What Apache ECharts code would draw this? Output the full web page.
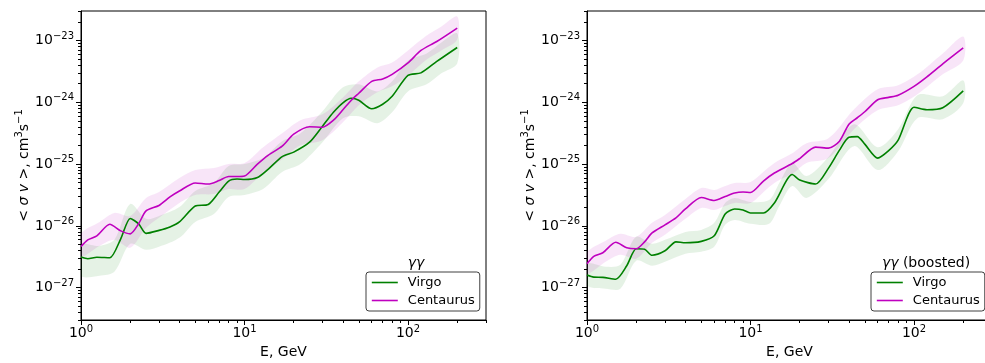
<!DOCTYPE html>
<html>
<head>
<meta charset="utf-8">
<script src="https://cdn.jsdelivr.net/npm/echarts@6/dist/echarts.min.js"></script>
<style>
  html, body { margin: 0; padding: 0; background: #fff; }
  #chart { width: 985px; height: 363px; }
</style>
</head>
<body>
<div id="chart"></div>
<script>
// ---- left panel: gamma gamma ----
const energyA = [1, 1.1, 1.25, 1.5, 1.75, 2, 2.25, 2.5, 3, 3.5, 4, 5, 6, 7, 8, 9, 10, 12, 14, 17, 20, 25, 30, 35, 40, 45, 50, 60, 70, 80, 100, 120, 150, 200];
const virgoA = [3.13e-27, 2.94e-27, 3.10e-27, 3.05e-27, 6.17e-27, 1.32e-26, 1.08e-26, 7.57e-27, 8.46e-27, 9.63e-27, 1.16e-26, 2.10e-26, 2.22e-26, 3.53e-26, 5.32e-26, 5.73e-26, 5.62e-26, 6.05e-26, 8.30e-26, 1.32e-25, 1.56e-25, 2.26e-25, 4.10e-25, 6.90e-25, 9.82e-25, 1.16e-24, 1.08e-24, 7.85e-25, 9.29e-25, 1.25e-24, 2.72e-24, 2.99e-24, 4.58e-24, 7.71e-24];
const centaurusA = [4.63e-27, 5.94e-27, 6.90e-27, 1.06e-26, 8.30e-27, 7.43e-27, 1.08e-26, 1.75e-26, 2.14e-26, 2.94e-26, 3.67e-26, 4.94e-26, 4.75e-26, 5.42e-26, 6.28e-26, 6.28e-26, 6.40e-26, 1.0e-25, 1.40e-25, 1.95e-25, 3.05e-25, 4.03e-25, 3.95e-25, 5.13e-25, 7.57e-25, 1.08e-24, 1.40e-24, 2.18e-24, 2.39e-24, 2.83e-24, 4.34e-24, 6.90e-24, 9.64e-24, 1.59e-23];

const bandEnergyA = [1, 1.3, 1.6, 2, 2.5, 3, 4, 5, 6.5, 8, 10, 13, 17, 22, 30, 40, 50, 65, 80, 100, 130, 160, 200];
const virgoHiA = [4.94e-27, 4.75e-27, 5.94e-27, 2.26e-26, 1.30e-26, 1.45e-26, 2.02e-26, 3.67e-26, 4.94e-26, 9.29e-26, 1.0e-25, 1.25e-25, 2.35e-25, 3.16e-25, 7.16e-25, 1.75e-24, 1.95e-24, 1.50e-24, 2.18e-24, 4.75e-24, 6.17e-24, 9.29e-24, 1.30e-23];
const virgoLoA = [1.56e-27, 1.56e-27, 1.81e-27, 5.13e-27, 4.10e-27, 4.58e-27, 6.40e-27, 1.16e-26, 1.56e-26, 2.94e-26, 3.16e-26, 3.95e-26, 7.43e-26, 1.0e-25, 2.26e-25, 5.52e-25, 5.94e-25, 4.58e-25, 6.90e-25, 1.50e-24, 1.95e-24, 2.94e-24, 4.26e-24];
const centaurusHiA = [7.43e-27, 1.16e-26, 1.62e-26, 1.45e-26, 2.83e-26, 3.53e-26, 5.94e-26, 8.0e-26, 8.61e-26, 1.0e-25, 1.04e-25, 1.88e-25, 3.16e-25, 5.13e-25, 6.40e-25, 1.20e-24, 2.18e-24, 3.67e-24, 4.42e-24, 6.90e-24, 1.20e-23, 1.68e-23, 2.44e-23];
const centaurusLoA = [3.16e-27, 4.75e-27, 5.94e-27, 4.42e-27, 9.29e-27, 1.35e-26, 2.35e-26, 3.16e-26, 3.28e-26, 3.95e-26, 3.95e-26, 7.16e-26, 1.20e-25, 2.02e-25, 2.44e-25, 4.75e-25, 8.95e-25, 1.45e-24, 1.81e-24, 2.72e-24, 4.94e-24, 6.90e-24, 1.04e-23];

// ---- right panel: gamma gamma (boosted) ----
const energyB = [1, 1.1, 1.25, 1.5, 1.75, 2, 2.25, 2.5, 3, 3.5, 4, 5, 6, 7, 8, 9, 10, 12, 14, 18, 20, 25, 30, 35, 40, 45, 50, 60, 70, 80, 100, 120, 150, 200];
const virgoB = [1.60e-27, 1.48e-27, 1.47e-27, 1.37e-27, 2.26e-27, 4.26e-27, 4.18e-27, 3.34e-27, 3.95e-27, 5.52e-27, 5.32e-27, 5.62e-27, 6.90e-27, 1.56e-26, 1.88e-26, 1.81e-26, 1.62e-26, 1.62e-26, 2.35e-26, 6.77e-26, 5.52e-26, 4.75e-26, 8.61e-26, 1.68e-25, 2.72e-25, 2.78e-25, 2.10e-25, 1.25e-25, 1.65e-25, 2.44e-25, 8.30e-25, 7.57e-25, 8.15e-25, 1.53e-24];
const centaurusB = [2.44e-27, 3.22e-27, 3.67e-27, 5.42e-27, 4.42e-27, 4.26e-27, 5.52e-27, 7.71e-27, 1.04e-26, 1.35e-26, 1.88e-26, 2.88e-26, 2.58e-26, 2.99e-26, 3.40e-26, 3.53e-26, 3.47e-26, 5.32e-26, 7.16e-26, 1.02e-25, 1.23e-25, 1.88e-25, 1.81e-25, 2.35e-25, 4.42e-25, 5.62e-25, 7.03e-25, 1.10e-24, 1.20e-24, 1.30e-24, 1.81e-24, 2.58e-24, 4.18e-24, 7.57e-24];

const bandEnergyB = [1, 1.3, 1.6, 2, 2.5, 3, 4, 5, 6, 7, 8, 10, 13, 15, 18, 22, 30, 43, 60, 80, 105, 150, 200];
const virgoHiB = [2.44e-27, 2.18e-27, 2.35e-27, 6.65e-27, 5.13e-27, 5.94e-27, 8.0e-27, 8.61e-27, 1.12e-26, 2.35e-26, 2.83e-26, 2.44e-26, 2.62e-26, 4.94e-26, 1.04e-25, 6.40e-26, 1.30e-25, 4.42e-25, 1.88e-25, 3.67e-25, 1.30e-24, 1.25e-24, 2.26e-24];
const virgoLoB = [1.08e-27, 9.64e-28, 9.64e-28, 2.72e-27, 2.26e-27, 2.62e-27, 3.53e-27, 3.81e-27, 4.58e-27, 1.04e-26, 1.25e-26, 1.08e-26, 1.08e-26, 2.10e-26, 4.42e-26, 2.83e-26, 5.73e-26, 1.95e-25, 8.0e-26, 1.62e-25, 5.52e-25, 5.32e-25, 9.64e-25];
const centaurusHiB = [3.67e-27, 5.73e-27, 7.43e-27, 6.65e-27, 1.12e-26, 1.50e-26, 2.72e-26, 4.10e-26, 3.81e-26, 4.42e-26, 4.94e-26, 5.13e-26, 8.95e-26, 1.16e-25, 1.50e-25, 2.18e-25, 2.62e-25, 7.71e-25, 1.62e-24, 1.88e-24, 2.83e-24, 6.17e-24, 1.16e-23];
const centaurusLoB = [1.68e-27, 2.62e-27, 3.40e-27, 2.94e-27, 5.32e-27, 7.16e-27, 1.30e-26, 1.95e-26, 1.81e-26, 2.10e-26, 2.35e-26, 2.35e-26, 4.26e-26, 5.52e-26, 6.90e-26, 1.04e-25, 1.25e-25, 3.67e-25, 7.43e-25, 8.95e-25, 1.35e-24, 2.83e-24, 4.75e-24];

// ---- axis limits and ticks ----
const xMin = 1, xMax = 300;
const yMin = 3e-28, yMax = 3e-23;
const majorX = [1, 10, 100];
const minorX = [2, 3, 4, 5, 6, 7, 8, 9, 20, 30, 40, 50, 60, 70, 80, 90, 200, 300];
const majorY = [1e-27, 1e-26, 1e-25, 1e-24, 1e-23];
const minorY = [3e-28, 4e-28, 5e-28, 6e-28, 7e-28, 8e-28, 9e-28,
  2e-27, 3e-27, 4e-27, 5e-27, 6e-27, 7e-27, 8e-27, 9e-27,
  2e-26, 3e-26, 4e-26, 5e-26, 6e-26, 7e-26, 8e-26, 9e-26,
  2e-25, 3e-25, 4e-25, 5e-25, 6e-25, 7e-25, 8e-25, 9e-25,
  2e-24, 3e-24, 4e-24, 5e-24, 6e-24, 7e-24, 8e-24, 9e-24,
  2e-23, 3e-23];

const GREEN = "#008000";
const MAGENTA = "#bf00bf";
const FONT = "DejaVu Sans";

// "10" with a raised, smaller exponent, like matplotlib mathtext
const supRich = {
  b: { fontSize: 14, fontFamily: FONT, color: "#000" },
  s: { fontSize: 10, fontFamily: FONT, color: "#000", padding: [0, 0, 9, 0] },
  i: { fontSize: 14, fontFamily: FONT, color: "#000", fontStyle: "italic" }
};
function supPow(e) {
  return "{b|10}{s|" + String(Math.round(e)).replace("-", "\u2212") + "}";
}

const panels = [
  { left: 81, legendLeft: 366, E: energyA, virgo: virgoA, cen: centaurusA,
    bE: bandEnergyA, vLo: virgoLoA, vHi: virgoHiA, cLo: centaurusLoA, cHi: centaurusHiA },
  { left: 587, legendLeft: 871, E: energyB, virgo: virgoB, cen: centaurusB,
    bE: bandEnergyB, vLo: virgoLoB, vHi: virgoHiB, cLo: centaurusLoB, cHi: centaurusHiB }
];

const grid = [], xAxis = [], yAxis = [], series = [], legend = [];
const tickStyle = { color: "#000", width: 1 };

function band(i, name, E, lo, hi, color) {
  return {
    type: "custom",
    name: name,
    xAxisIndex: 2 * i,
    yAxisIndex: 3 * i,
    data: E.map((e, k) => [e, lo[k], hi[k]]),
    encode: { x: 0, y: [1, 2] },
    clip: true,
    silent: true,
    z: 1,
    renderItem(params, api) {
      if (params.dataIndex !== 0) return null;
      const top = E.map((e, k) => api.coord([e, hi[k]]));
      const bottom = E.map((e, k) => api.coord([e, lo[k]])).reverse();
      return {
        type: "polygon",
        shape: { points: top.concat(bottom), smooth: 0.3 },
        style: { fill: color, stroke: null }
      };
    }
  };
}

function curve(i, name, E, v, color) {
  return {
    type: "line",
    name: name,
    xAxisIndex: 2 * i,
    yAxisIndex: 3 * i,
    data: E.map((e, k) => [e, v[k]]),
    symbol: "none",
    smooth: 0.25,
    silent: true,
    z: 3,
    lineStyle: { color: color, width: 1.6 },
    itemStyle: { color: color }
  };
}

panels.forEach((p, i) => {
  grid.push({
    left: p.left, top: 11, width: 405, height: 309,
    show: true, borderColor: "#000", borderWidth: 1, backgroundColor: "transparent",
    outerBoundsMode: "none", containLabel: false
  });

  xAxis.push({
    type: "log", logBase: 10, gridIndex: i, position: "bottom", min: xMin, max: xMax,
    name: "E, GeV", nameLocation: "middle", nameGap: 25,
    nameTextStyle: { fontSize: 14, color: "#000", fontFamily: FONT },
    axisLine: { show: true, lineStyle: tickStyle },
    axisTick: { show: true, inside: false, length: 5, customValues: majorX, lineStyle: tickStyle },
    axisLabel: { customValues: majorX, formatter: (v) => supPow(Math.log10(v)), rich: supRich, margin: 4 },
    splitLine: { show: false }
  });
  xAxis.push({
    type: "log", logBase: 10, gridIndex: i, position: "bottom", min: xMin, max: xMax,
    axisLine: { show: false },
    axisTick: { show: true, inside: false, length: 3, customValues: minorX, lineStyle: tickStyle },
    axisLabel: { show: false },
    splitLine: { show: false }
  });

  // log axis that carries the data (hidden)
  yAxis.push({
    type: "log", logBase: 10, gridIndex: i, position: "left", min: yMin, max: yMax,
    show: false, splitLine: { show: false }
  });
  // exponent axis over the same range, only for ticks and labels
  yAxis.push({
    type: "value", gridIndex: i, position: "left",
    min: Math.log10(yMin), max: Math.log10(yMax),
    name: "< {i|\u03c3 v} >, cm{s|3}s{s|\u22121}", nameLocation: "middle", nameRotate: 90, nameGap: 44,
    nameTextStyle: { fontSize: 14, color: "#000", fontFamily: FONT, rich: supRich },
    axisLine: { show: true, lineStyle: tickStyle },
    axisTick: { show: true, inside: false, length: 5, customValues: majorY.map(Math.log10), lineStyle: tickStyle },
    axisLabel: { customValues: majorY.map(Math.log10), formatter: supPow, rich: supRich, margin: 7 },
    splitLine: { show: false }
  });
  yAxis.push({
    type: "value", gridIndex: i, position: "left",
    min: Math.log10(yMin), max: Math.log10(yMax),
    axisLine: { show: false },
    axisTick: { show: true, inside: false, length: 3, customValues: minorY.map(Math.log10), lineStyle: tickStyle },
    axisLabel: { show: false },
    splitLine: { show: false }
  });

  series.push(band(i, "Virgo band", p.bE, p.vLo, p.vHi, "rgba(0,128,0,0.1)"));
  series.push(band(i, "Centaurus band", p.bE, p.cLo, p.cHi, "rgba(191,0,191,0.1)"));
  series.push(curve(i, "Virgo", p.E, p.virgo, GREEN));
  series.push(curve(i, "Centaurus", p.E, p.cen, MAGENTA));

  legend.push({
    data: ["Virgo", "Centaurus"],
    orient: "vertical",
    left: p.legendLeft, top: 272,
    itemWidth: 26, itemHeight: 14, itemGap: 5,
    padding: [4, 5, 4, 5],
    borderColor: "rgba(0,0,0,0.75)", borderWidth: 1, borderRadius: 3,
    backgroundColor: "rgba(255,255,255,0.8)",
    selectedMode: false,
    itemStyle: { opacity: 0 },
    lineStyle: { width: 1.6 },
    textStyle: { fontSize: 13, color: "#000", fontFamily: FONT, padding: [0, 0, 0, 5] }
  });
});

const chart = echarts.init(document.getElementById("chart"), null, { renderer: "canvas" });
chart.setOption({
  animation: false,
  backgroundColor: "#fff",
  grid: grid,
  xAxis: xAxis,
  yAxis: yAxis,
  legend: legend,
  series: series,
  graphic: [
    { type: "text", x: 416, y: 263,
      style: { text: "\u03b3\u03b3", fontSize: 14, fontStyle: "italic", fontFamily: FONT, fill: "#000", align: "center", verticalAlign: "middle" } },
    { type: "text", x: 926, y: 263,
      style: { text: "{i|\u03b3\u03b3} (boosted)", fontSize: 14, fontFamily: FONT, fill: "#000", align: "center", verticalAlign: "middle",
        rich: { i: { fontSize: 14, fontFamily: FONT, fontStyle: "italic", fill: "#000" } } } }
  ]
});
window.addEventListener("resize", () => chart.resize());
</script>
</body>
</html>
